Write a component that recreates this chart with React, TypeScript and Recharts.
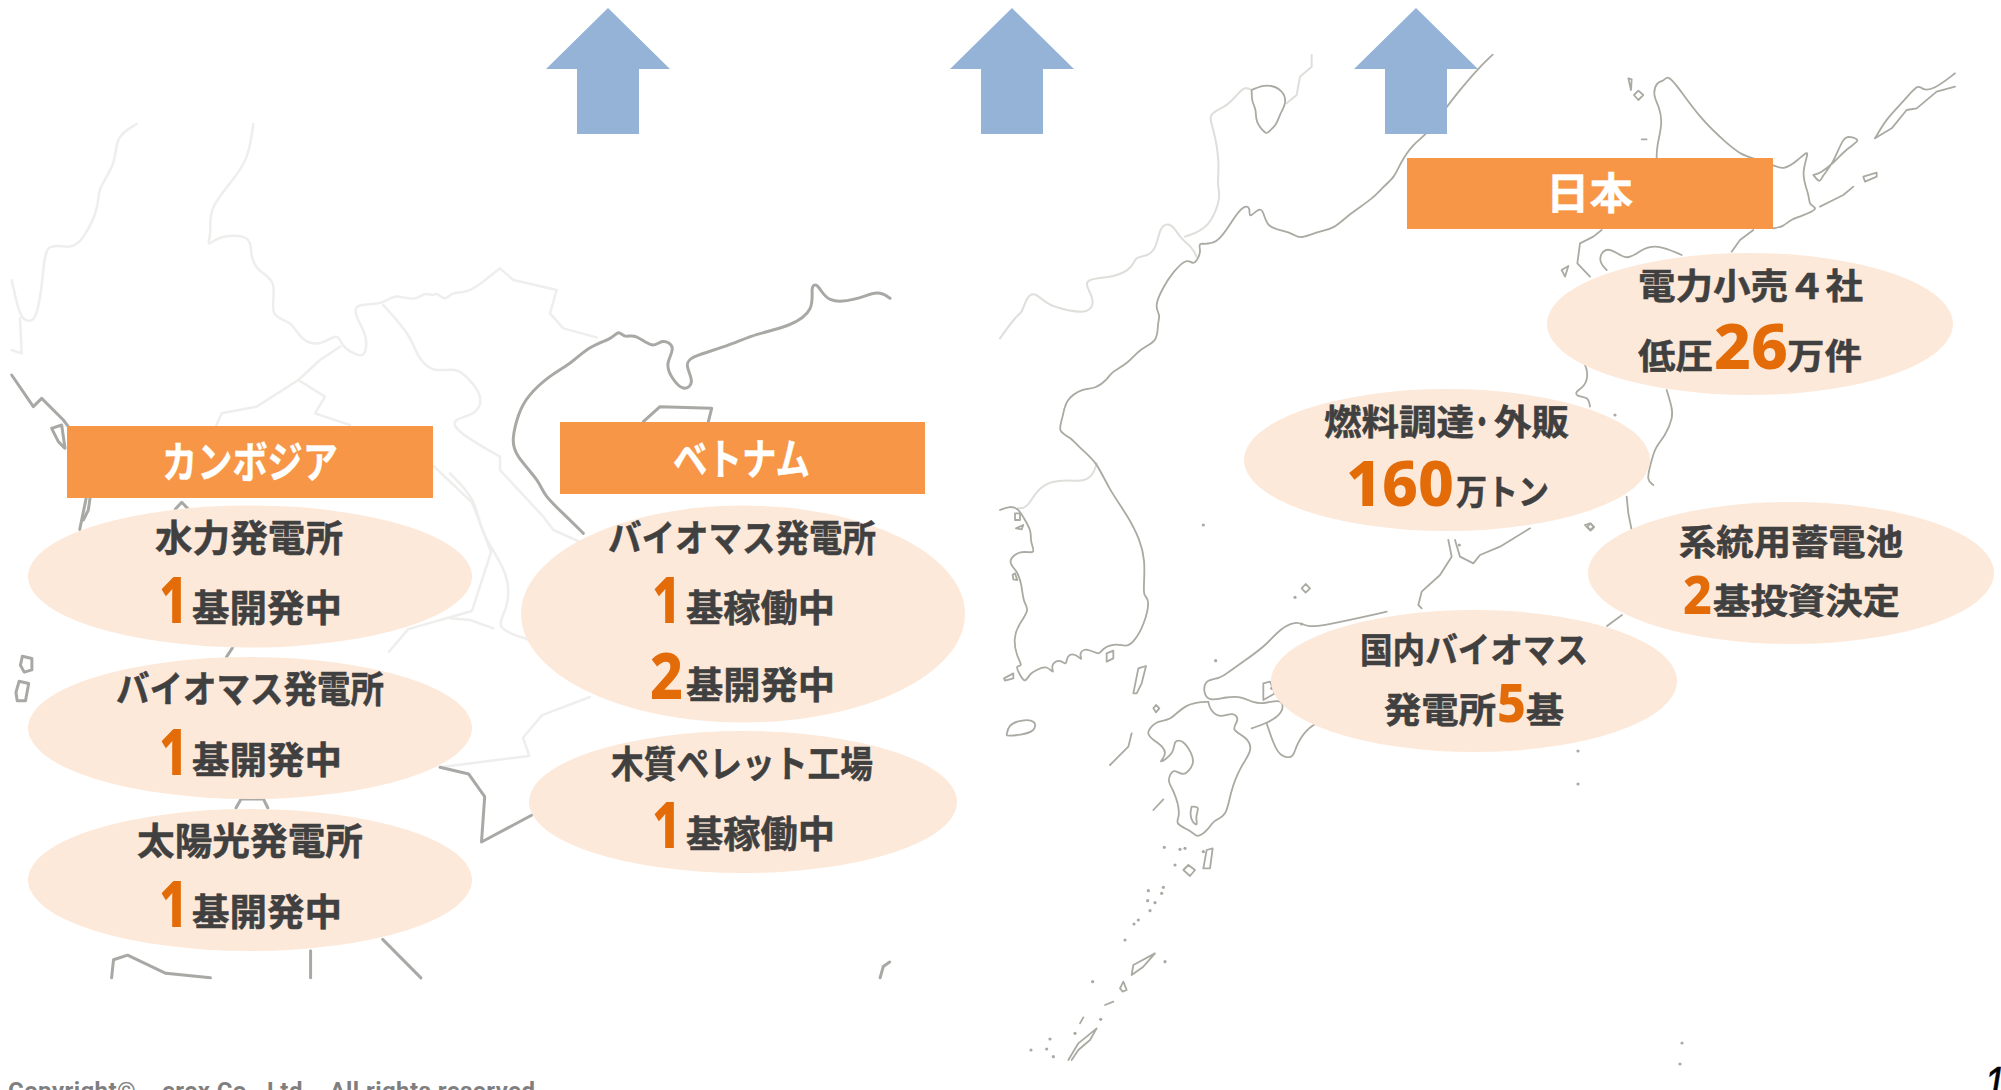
import React from "react";
import { ScatterChart, Scatter, XAxis, YAxis } from "recharts";

// ---- content ----
const regionNames = ["カンボジア", "ベトナム", "日本"];
const cambodiaProjects = ["水力発電所", "バイオマス発電所", "太陽光発電所"];
const cambodiaCounts = ["1", "1", "1"];
const statusDeveloping = "基開発中";
const statusOperating = "基稼働中";
const vietnamProjects = ["バイオマス発電所", "木質ペレット工場"];
const vietnamCounts = ["1", "2", "1"];
const japanLines = ["電力小売４社", "低圧", "万件", "燃料調達", "・", "外販", "万トン", "系統用蓄電池", "基投資決定", "国内バイオマス", "発電所", "基"];
const japanCounts = ["26", "160", "2", "5"];
const copyright = "Copyright©\u00A0\u00A0\u00A0\u00A0erex Co., Ltd.\u00A0\u00A0\u00A0All rights reserved";
const pageNumber = "1";

// ---- styles ----
const DARK = "#404040";
const ORANGE = "#E36C09";
const BOX = "#F79646";
const BUBBLE = "#FDE9D9";
const ARROW = "#95B3D7";
const COAST = "#aaaaa2";
const BORDER = "#dededa";
const L_COAST = "#a8a8a5";
const L_BORDER = "#eeeeed";
const JP = "'Noto Sans CJK JP', sans-serif";
const NUM = "'Noto Sans', sans-serif";

// ---- map outlines, traced in the frame of each crop ----
type P = { x: number; y: number };
const frame = (ox: number, oy: number, sx: number, sy: number) => (f: number[]): P[] => {
  const out: P[] = [];
  for (let i = 0; i < f.length; i += 2) out.push({ x: ox + f[i] / sx, y: oy + f[i + 1] / sy });
  return out;
};
const c5 = frame(1000, 40, 3, 3);
const c6 = frame(1500, 40, 3, 3);
const c7 = frame(1000, 540, 3, 3);
const c8 = frame(0, 120, 3, 3);
const c9 = frame(450, 250, 3, 3);
const c1 = frame(0, 380, 1.568, 2.208);

const asiaCoast = [
  ...c5([1478,44,1430,90,1380,150,1340,200,1280,285,1240,310,1200,370,1185,410,1150,440,1120,475,1050,520,1000,568,960,572,900,598,880,582,850,572,800,562,790,510,775,505,745,538,752,500,730,497,700,535,650,620,590,605,605,630,590,665,578,672,560,655,520,695,490,740,462,800,482,825,472,850,474,905,420,925,385,970,335,995,325,1015,285,1048,250,1044,195,1080,190,1130,172,1175,210,1190,240,1225,290,1265,325,1345,385,1430,420,1500]),
  ...c7([435,60,432,130,430,170,450,175,435,250,400,310,375,320,350,310,305,325,300,348,260,322,235,340,250,365,225,340,200,345,200,380,180,355,150,375,165,405,140,375,110,390,90,400,75,430,60,405,45,375,70,380,50,350,40,295,55,255,90,208,70,190,65,130,50,90,20,65,60,28,110,45,90,5]),
  ...c5([95,1475,75,1440,55,1405,30,1398,0,1410]),
];
const chinaBorders = [
  c5([0,895,50,825,65,822,80,770,105,755,140,795,205,812,265,820,285,785,262,745,255,715,350,712,400,680,405,650,440,650,470,625,480,555,515,548,540,595,575,620,590,650]),
  c5([555,590,630,565,665,465,650,440,660,370,640,260,622,222,680,200,715,160,735,140,755,150]),
  c5([860,190,890,165,900,110,935,80,935,45]),
  c5([290,1270,280,1305,250,1325,210,1320,140,1325,105,1360,80,1405,55,1405]),
];
const japanCoasts = [
  c5([755,150,800,130,850,150,860,190,840,220,830,255,805,275,800,285,765,245,770,210,755,185,755,150]),
  c5([45,1420,60,1420,60,1440,45,1440,45,1420]),
  c5([48,1465,70,1455,65,1468,48,1465]),
  c6([470,355,470,320,488,250,478,200,458,165,470,125,490,125,503,105,530,135,600,235,680,310,725,345,760,355,819,375,850,390,890,365,935,320,900,400,930,470,925,495,960,505,900,530,870,540,850,560,819,565]),
  c6([760,570,720,600,695,635]),
  c6([305,570,280,590,240,610,232,670,270,710]),
  c6([320,690,300,670,300,640,330,620,380,665,420,630,470,612,545,645]),
  c6([940,405,960,430,965,410,1000,370,1030,290,1050,290,1085,300,1040,325,1000,370,960,400,940,405]),
  c6([1125,295,1160,235,1210,185,1255,130,1265,150,1300,150,1365,100]),
  c6([1365,140,1310,155,1250,205,1220,210,1175,265,1125,295]),
  c6([402,165,415,152,430,165,415,180,402,165]),
  c6([385,115,395,118,393,150,385,115]),
  c6([425,298,440,298]),
  c6([185,690,205,678,195,710,185,690]),
  c6([1090,410,1130,398,1130,410,1095,425,1090,410]),
  c6([960,500,1000,480,1030,465,1060,440]),
  c6([255,975,265,1000,255,1040,225,1055,230,1070,265,1070,270,1100]),
  c6([500,1050,515,1100,520,1130,495,1190,465,1220,450,1280,440,1320,460,1335]),
  c6([380,1370,385,1420,395,1470]),
  c6([262,1460,272,1450,282,1462,272,1472,262,1460]),
  c7([1345,0,1355,50,1320,105,1265,155,1255,195,1265,205]),
  c7([1365,0,1380,50,1420,70,1440,45,1500,20,1590,-35]),
  c7([1821,258,1866,225]),
  c7([1160,215,1050,240,1000,250,920,265,895,240,840,265,800,315,730,365,680,400,660,415,615,420,610,455,625,485,680,470,730,470,760,490,800,490,850,475,850,520,800,550,755,565]),
  c7([625,485,630,510,660,535,700,515,720,540,690,570,740,590,760,630,720,680,690,760,680,830,640,840,625,870,590,895,580,875,520,850,545,830,520,745,500,725,520,680,550,715,585,670,575,640,550,600,520,600,525,640,470,675,500,645,490,620,460,600,435,580,470,540,510,545,555,490,625,485]),
  c7([575,800,600,800,585,830,595,860,575,845,570,820,575,800]),
  c7([800,550,820,610,840,650,880,655,885,625,915,570,965,540,1000,550,1030,580,1020,550]),
  c7([790,430,810,425,825,460,790,480,790,430]),
  c7([330,675,385,620,395,580]),
  c7([400,460,415,385,438,378,425,430,410,460,400,460]),
  c7([460,505,468,495,478,505,468,517,460,505]),
  c7([20,585,25,555,60,540,110,540,105,575,60,585,25,588,20,585]),
  c7([12,415,40,400,40,415,15,422,12,415]),
  c7([320,365,320,340,340,332,340,355,320,365]),
  c7([38,105,45,100,52,120,40,118,38,105]),
  c7([460,810,490,778]),
  c7([550,990,565,975,585,990,570,1008,550,990]),
  c7([610,985,620,930,638,925,630,985,610,985]),
  c7([395,1305,400,1275,465,1240,430,1280,395,1305]),
  c7([360,1345,370,1325,380,1350,368,1355,360,1345]),
  c7([315,1395,340,1385]),
  c7([205,1560,235,1510,290,1465,270,1500,235,1530,215,1560]),
  c7([905,145,917,132,930,145,917,158,905,145]),
  c7([240,1450,250,1432]),
  c7([1755,-45,1770,-50,1782,-40,1770,-30,1755,-45]),
];
const japanDots = c7([493,922,540,928,555,925,610,935,525,975,445,1052,490,1042,485,1060,443,1082,465,1088,450,1112,402,1152,415,1140,375,1200,278,1325,302,1438,495,1265,150,1497,93,1530,140,1527,160,1550,225,1480,2046,1509,2040,1572,1734,633,1734,732,647,362,885,172,905,252,815,445,1378,15,1845,-375,610,-45]);

const leftBorders = [
  c8([410,12,345,50,350,130,290,210,300,255,250,360,210,390,135,362,130,470,110,600,85,605,60,595,35,480]),
  c8([60,595,65,700,35,690]),
  c8([760,12,745,120,690,190,625,270,635,340,618,385,655,345,755,345,750,400,770,455,835,480,805,595,875,600,900,660,960,680,1015,635,1025,680,1060,700,1095,715,1105,650,1060,580,1070,550,1150,555,1180,520,1245,545,1275,515,1300,530,1310,515,1335,545,1355,515,1400,520,1450,485,1500,445]),
  c9([150,55,190,90,320,120,300,190,340,235,440,262]),
  c8([1150,555,1235,650,1250,710,1300,760,1370,740,1410,780,1450,830,1430,885,1360,895,1360,930,1500,1010]),
  c9([150,620,150,660,280,800,310,840,400,880]),
  c8([1020,680,960,720,895,780,770,860,665,880,645,925]),
  c8([895,780,975,830,945,880,1050,915]),
  c9([0,670,80,750,90,850,180,970,175,1080,130,1135,240,1170]),
  c9([0,1105,60,1110,130,1135]),
  c1([680,190,740,270,770,380,740,510,640,550,610,600]),
  c1([925,700,850,740,820,790,830,830,690,855]),
];
const leftCoasts = [
  c8([35,765,100,860,125,835,190,900,205,920]),
  c8([155,925,185,915,195,985,175,965,155,925]),
  c8([270,1135,265,1170,250,1200]),
  c1([135,262,125,330]),
  c1([275,285,285,270,295,285]),
  c9([400,850,350,800,280,735,270,695,195,615,185,570,205,490,230,440,300,375,365,340,415,290,490,265,505,240,525,265,555,250,610,298,635,265,680,290,645,340,665,385,700,425,735,400,705,345,720,320,830,290,920,250,1020,230,1095,180,1080,105,1105,100,1130,160,1220,150,1285,120,1320,145]),
  c9([580,515,630,470,785,475,775,515]),
  c1([175,1320,178,1280,200,1270,260,1310,330,1320]),
  c1([487,1260,487,1320]),
  c1([600,1235,660,1320]),
  c1([1380,1320,1385,1295,1395,1285]),
  c1([365,590,355,612]),
  c1([370,945,378,925,413,925,420,945]),
  c1([690,855,735,870,760,920,755,1020,835,960]),
  c1([35,610,50,615,50,640,38,645,32,630,35,610]),
  c1([30,665,45,670,40,708,27,708,25,690,30,665]),
];

// ---- layout ----
const arrows = [{ x: 608, y: 8 }, { x: 1012, y: 8 }, { x: 1416, y: 8 }];
const boxes = [
  { x: 67, y: 426, w: 366, h: 72 },
  { x: 560, y: 422, w: 365, h: 72 },
  { x: 1407, y: 158, w: 366, h: 71 },
];
const bubbles = [
  { x: 250, y: 576.5, rx: 222, ry: 71 },
  { x: 250, y: 728, rx: 222, ry: 71 },
  { x: 250, y: 880, rx: 222, ry: 71 },
  { x: 743, y: 614, rx: 222, ry: 108.5 },
  { x: 743, y: 802, rx: 214, ry: 71 },
  { x: 1750, y: 324, rx: 203, ry: 71 },
  { x: 1447, y: 460, rx: 203, ry: 71 },
  { x: 1791, y: 573, rx: 203, ry: 71 },
  { x: 1474, y: 681, rx: 203, ry: 71 },
];
type T = P & { text: string; w: number; size: number; fill: string; font: string; weight: number; heavy?: number; italic?: boolean; spacing?: boolean };
const dark = (text: string, x: number, y: number, w: number, size = 37): T => ({ text, x: x - 1, y, w: w + 2, size, fill: DARK, font: JP, weight: 700, heavy: 0.5 });
const num = (text: string, x: number, y: number, w: number, size: number): T => ({ text, x, y, w, size, fill: ORANGE, font: NUM, weight: 800 });
const white = (text: string, x: number, y: number, w: number): T => ({ text, x, y, w, size: 43, fill: "#ffffff", font: JP, weight: 700, heavy: 0.4 });
const texts: T[] = [
  white(regionNames[0], 162, 478, 176),
  white(regionNames[1], 673, 475, 137),
  white(regionNames[2], 1546, 209, 87),
  dark(cambodiaProjects[0], 156, 552, 186),
  num(cambodiaCounts[0], 159, 623, 29, 64),
  dark(statusDeveloping, 193, 622, 148),
  dark(cambodiaProjects[1], 117, 703, 266),
  num(cambodiaCounts[1], 159, 775, 29, 64),
  dark(statusDeveloping, 193, 774, 148),
  dark(cambodiaProjects[2], 138, 855, 224),
  num(cambodiaCounts[2], 159, 927, 29, 64),
  dark(statusDeveloping, 193, 926, 148),
  dark(vietnamProjects[0], 609, 552, 266),
  num(vietnamCounts[0], 652, 623, 29, 64),
  dark(statusOperating, 687, 622, 147),
  num(vietnamCounts[1], 650, 699, 33, 64),
  dark(statusDeveloping, 687, 699, 147),
  dark(vietnamProjects[1], 612, 778, 260),
  num(vietnamCounts[2], 652, 848, 29, 64),
  dark(statusOperating, 687, 848, 147),
  dark(japanLines[0], 1639, 299, 223, 35),
  dark(japanLines[1], 1639, 369, 73, 35),
  num(japanCounts[0], 1714, 369, 74, 63),
  dark(japanLines[2], 1788, 369, 73, 35),
  dark(japanLines[3], 1325, 435, 148, 35),
  dark(japanLines[4], 1471, 435, 22, 35),
  dark(japanLines[5], 1495, 435, 73, 35),
  num(japanCounts[1], 1346, 506, 108, 63),
  dark(japanLines[6], 1457, 505, 91, 35),
  dark(japanLines[7], 1680, 555, 222, 35),
  num(japanCounts[2], 1683, 614, 29, 53),
  dark(japanLines[8], 1714, 614, 185, 35),
  dark(japanLines[9], 1361, 663, 226, 35),
  dark(japanLines[10], 1385, 723, 110, 35),
  num(japanCounts[3], 1497, 722, 29, 53),
  dark(japanLines[11], 1527, 723, 36, 35),
  { text: copyright, x: 8, y: 1099, w: 527, size: 24, fill: "#7f7f7f", font: "Roboto, sans-serif", weight: 700, spacing: true },
  { text: pageNumber, x: 1984, y: 1100, w: 22, size: 49, fill: "#000000", font: "'Liberation Sans', sans-serif", weight: 400, heavy: 0.6, italic: true },
];

// ---- shapes ----
const noMark = () => <g />;
const ArrowShape = (p: any) => {
  const { cx, cy } = p;
  const d = `M${cx} ${cy}L${cx + 62} ${cy + 61}H${cx + 31}V${cy + 126}H${cx - 31}V${cy + 61}H${cx - 62}Z`;
  return <path d={d} fill={ARROW} />;
};
const BoxShape = (p: any) => <rect x={p.cx} y={p.cy} width={p.payload.w} height={p.payload.h} fill={BOX} />;
const BubbleShape = (p: any) => <ellipse cx={p.cx} cy={p.cy} rx={p.payload.rx} ry={p.payload.ry} fill={BUBBLE} />;
const DotShape = (p: any) => <circle cx={p.cx} cy={p.cy} r={1.6} fill={COAST} />;
const TextShape = (p: any) => {
  const t: T = p.payload;
  return (
    <text
      x={p.cx}
      y={p.cy}
      fill={t.fill}
      stroke={t.heavy ? t.fill : "none"}
      strokeWidth={t.heavy || 0}
      fontFamily={t.font}
      fontSize={t.size}
      fontWeight={t.weight}
      fontStyle={t.italic ? "italic" : "normal"}
      textLength={t.w}
      lengthAdjust={t.spacing ? "spacing" : "spacingAndGlyphs"}
    >
      {t.text}
    </text>
  );
};

const outline = (pts: P[], stroke: string, width: number, key: string) => (
  <Scatter
    key={key}
    data={pts}
    isAnimationActive={false}
    shape={noMark}
    line={{ stroke, strokeWidth: width, strokeLinejoin: "round", strokeLinecap: "round" }}
    lineJointType={pts.length > 6 ? "basis" : "linear"}
  />
);

export default function App() {
  return (
    <div style={{ position: "absolute", left: 0, top: 0, width: 2001, height: 1090, overflow: "hidden", background: "#fff" }}>
      <ScatterChart width={2001} height={1090} margin={{ top: 0, right: 0, bottom: 0, left: 0 }}>
        <XAxis type="number" dataKey="x" domain={[0, 2001]} hide allowDataOverflow />
        <YAxis type="number" dataKey="y" domain={[0, 1090]} reversed hide allowDataOverflow />
        {leftBorders.map((s, i) => outline(s, L_BORDER, 2.5, `lb${i}`))}
        {leftCoasts.map((s, i) => outline(s, L_COAST, 3, `lc${i}`))}
        {chinaBorders.map((s, i) => outline(s, BORDER, 2, `cb${i}`))}
        {outline(asiaCoast, COAST, 1.8, "asia")}
        {japanCoasts.map((s, i) => outline(s, COAST, 1.8, `jc${i}`))}
        <Scatter data={japanDots} isAnimationActive={false} shape={DotShape} />
        <Scatter data={arrows} isAnimationActive={false} shape={ArrowShape} />
        <Scatter data={bubbles} isAnimationActive={false} shape={BubbleShape} />
        <Scatter data={boxes} isAnimationActive={false} shape={BoxShape} />
        <Scatter data={texts} isAnimationActive={false} shape={TextShape} />
      </ScatterChart>
    </div>
  );
}
